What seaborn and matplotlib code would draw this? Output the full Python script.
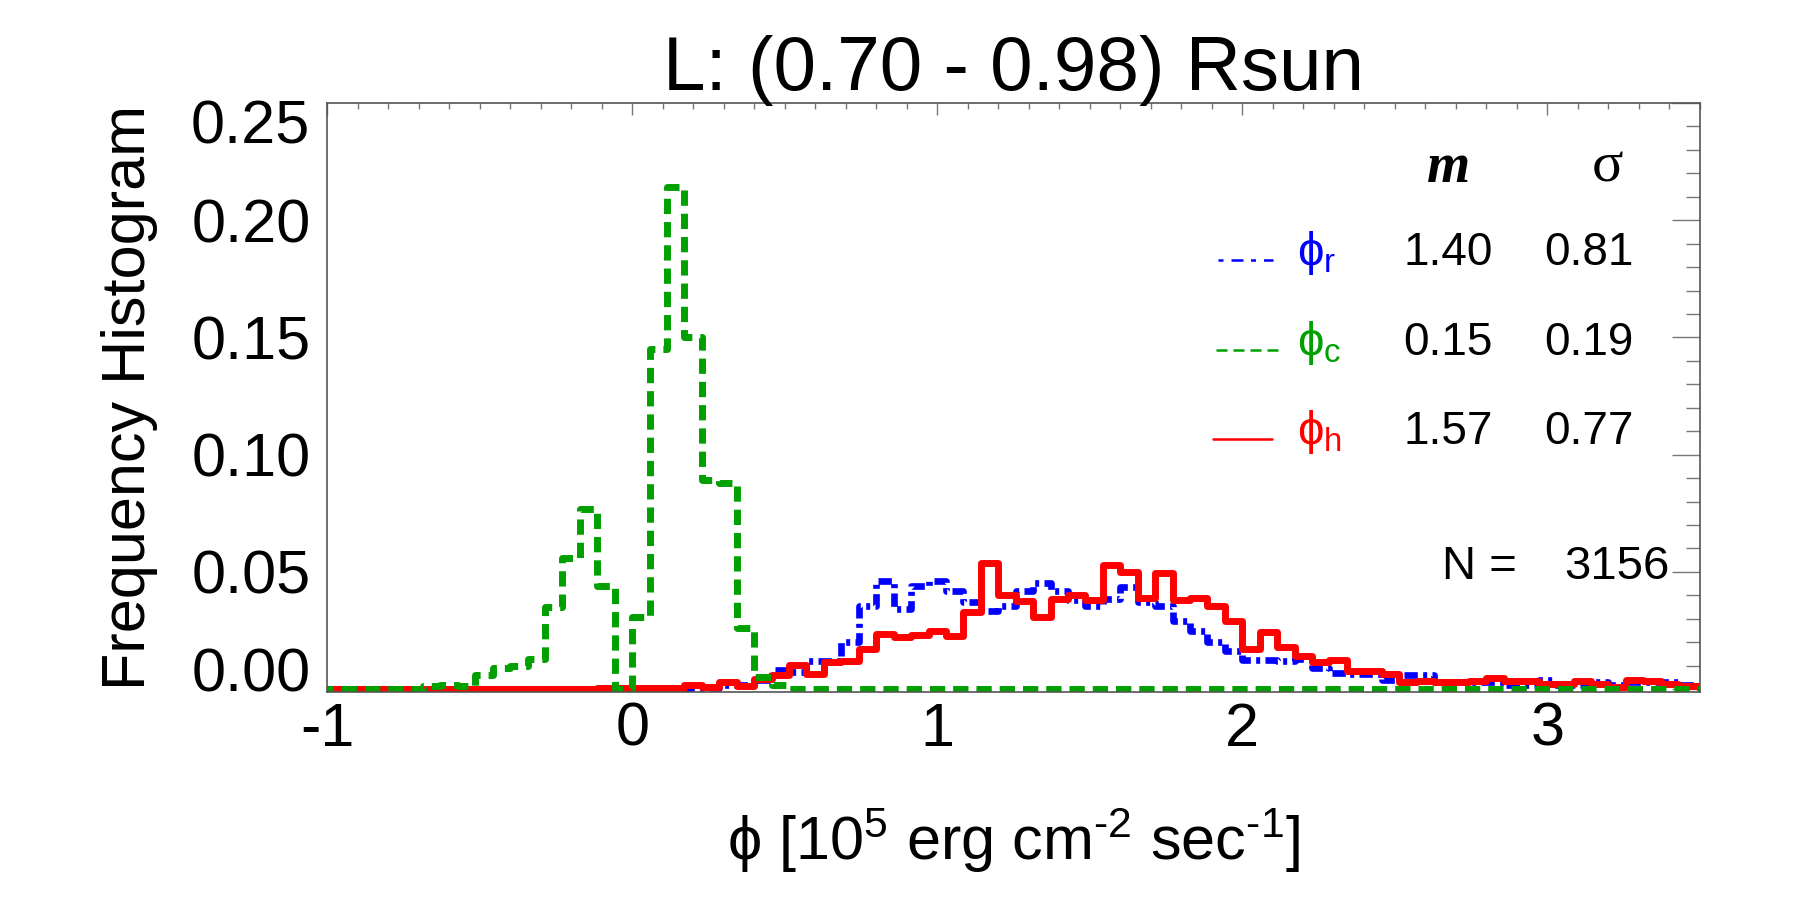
#histogram of flux components phi_r, phi_c, phi_h for L: (0.70 - 0.98) Rsun

import numpy as np
import pandas as pd
import seaborn as sns
import matplotlib.pyplot as plt
from matplotlib.lines import Line2D
from matplotlib.ticker import MultipleLocator, FormatStrFormatter
from matplotlib.transforms import ScaledTranslation

sns.set_style("white")
plt.rcParams['font.family'] = ['Liberation Sans', 'DejaVu Sans']
plt.rcParams['mathtext.fontset'] = 'custom'
plt.rcParams['mathtext.rm'] = 'Liberation Sans'
plt.rcParams['mathtext.it'] = 'Liberation Sans:italic'
plt.rcParams['mathtext.fallback'] = 'stixsans'
plt.rcParams['axes.unicode_minus'] = False
plt.rcParams['text.color'] = 'black'
plt.rcParams['axes.labelcolor'] = 'black'

# -- values --
# common bin grid, bin k covers [k*w, (k+1)*w], k = -18 ... 61
bin_width = 2/35
bin_index = np.arange(-18, 62)

phi_r = [0, 0, 0, 0, 0, 0, 0, 0, 0, 0,
	0, 0, 0, 0, 0, 0, 0, 0, 0, 0,
	0, 0.0003, 0.0005, 0.002, 0.002, 0.004, 0.008, 0.0075, 0.012, 0.012,
	0.020, 0.0356, 0.0463, 0.034, 0.044, 0.0463, 0.042, 0.0373, 0.0332, 0.0353,
	0.042, 0.0455, 0.042, 0.038, 0.0356, 0.0384, 0.0437, 0.037, 0.0356, 0.029,
	0.025, 0.020, 0.0165, 0.0125, 0.0125, 0.012, 0.013, 0.009, 0.007, 0.0065,
	0.0065, 0.004, 0.006, 0.006, 0.003, 0.003, 0.003, 0.003, 0.002, 0.002,
	0.004, 0.002, 0.002, 0.003, 0.002, 0.003, 0.003, 0.003, 0.002, 0.001]

phi_c = [0, 0, 0, 0, 0, 0, 0.0012, 0.0016, 0.0015, 0.006,
	0.009, 0.010, 0.013, 0.035, 0.056, 0.077, 0.044, 0.0, 0.031, 0.145,
	0.214, 0.150, 0.089, 0.088, 0.026, 0.005, 0.002, 0, 0, 0,
	0, 0, 0, 0, 0, 0, 0, 0, 0, 0,
	0, 0, 0, 0, 0, 0, 0, 0, 0, 0,
	0, 0, 0, 0, 0, 0, 0, 0, 0, 0,
	0, 0, 0, 0, 0, 0, 0, 0, 0, 0,
	0, 0, 0, 0, 0, 0, 0, 0, 0, 0]

phi_h = [0, 0, 0, 0, 0, 0, 0, 0, 0, 0,
	0, 0, 0, 0, 0, 0, 0.0003, 0.0003, 0.0003, 0.0004,
	0.0004, 0.002, 0.001, 0.003, 0.0014, 0.0044, 0.0062, 0.0105, 0.0065, 0.0118,
	0.0122, 0.0172, 0.0235, 0.0224, 0.0231, 0.025, 0.0228, 0.033, 0.0538, 0.040,
	0.0377, 0.031, 0.0384, 0.0403, 0.0382, 0.053, 0.0498, 0.0389, 0.0495, 0.038,
	0.0387, 0.0356, 0.0289, 0.0172, 0.0243, 0.0179, 0.0143, 0.0115, 0.0125, 0.0079,
	0.0079, 0.0066, 0.003, 0.0037, 0.003, 0.003, 0.0037, 0.0047, 0.0037, 0.0037,
	0.0023, 0.0023, 0.0037, 0.0023, 0.001, 0.004, 0.0035, 0.0023, 0.0012, 0.0015]

series_names = ["r", "c", "h"]
series_mean = ["1.40", "0.15", "1.57"]
series_sigma = ["0.81", "0.19", "0.77"]
n_points = 3156

#step outline: left edges plus closing right edge (last height repeated)
bin_edges = bin_width*np.append(bin_index, bin_index[-1]+1)
steps = []
for s, vals in zip(series_names, [phi_r, phi_c, phi_h]):
	steps.append(pd.DataFrame({"phi": bin_edges, "freq": vals+[vals[-1]], "series": s}))
steps_df = pd.concat(steps, ignore_index=True)

colors = {"r": "#0000ff", "c": "#00a000", "h": "#ff0000"}
styles = {"r": (0, (2.0, 0.8, 0.6, 0.8)), "c": (0, (2.2, 1.15)), "h": "-"}
widths = {"r": 4.8, "c": 5.0, "h": 5.0}
key_styles = {"r": (0, (2.0, 3.2, 4.8, 3.0)), "c": (0, (4.4, 2.4)), "h": "-"}

# -- plotting --
fig, ax = plt.subplots(figsize=(18, 9), dpi=100)
fig.subplots_adjust(left=0.1817, right=0.9444, top=0.8856, bottom=0.2311)

#draw order: blue under red, green on top
for s in ["r", "h", "c"]:
	sns.lineplot(data=steps_df[steps_df["series"]==s], x="phi", y="freq",
		drawstyle="steps-post", estimator=None, sort=False,
		color=colors[s], linewidth=widths[s], linestyle=styles[s], ax=ax)

ax.set_xlim(-1, 3.5)
ax.set_ylim(-0.0012, 0.25)
ax.set_xticks([-1, 0, 1, 2, 3])
ax.set_yticks([0, 0.05, 0.10, 0.15, 0.20, 0.25])
ax.xaxis.set_minor_locator(MultipleLocator(0.1))
ax.yaxis.set_minor_locator(MultipleLocator(0.01))
ax.yaxis.set_major_formatter(FormatStrFormatter("%.2f"))

ax.tick_params(axis="both", which="both", direction="in", top=True, right=True,
	color="#777777", labelcolor="black", width=1.0, labelsize=44)
ax.tick_params(axis="x", which="major", length=8.6, pad=7)
ax.tick_params(axis="x", which="minor", length=4.3)
ax.tick_params(axis="y", which="major", length=20, pad=12)
ax.tick_params(axis="y", which="minor", length=10)
for sp in ax.spines.values():
	sp.set_color("#555555")
	sp.set_linewidth(1.2)

ax.set_title("L: (0.70 - 0.98) Rsun", fontsize=55, pad=9)
ax.set_xlabel(r"$\mathrm{\phi}$ [10$^5$ erg cm$^{\text{-2}}$ sec$^{\text{-1}}$]", fontsize=44, labelpad=34)
ax.set_ylabel("Frequency Histogram", fontsize=44, labelpad=24)

#end labels sit inside the box like the original
ylabels = ax.get_yticklabels()
ylabels[0].set_transform(ylabels[0].get_transform()+ScaledTranslation(0, 14/72, fig.dpi_scale_trans))
ylabels[-1].set_transform(ylabels[-1].get_transform()+ScaledTranslation(0, -13/72, fig.dpi_scale_trans))

# -- legend table --
tr = ax.transAxes
ax.text(0.8165, 0.8896, "m", transform=tr, fontsize=40, ha="center", va="center",
	family="Liberation Serif", style="italic", weight="bold")
ax.text(0.933, 0.8896, "σ", transform=tr, fontsize=42, ha="center", va="center",
	family="Liberation Serif")
row_y = [0.745, 0.593, 0.441]
key_x = [(0.649, 0.689), (0.6475, 0.6934), (0.645, 0.688)]
for i, s in enumerate(series_names):
	ax.add_line(Line2D(key_x[i], [row_y[i]-0.012]*2, transform=tr, color=colors[s],
		linewidth=1.8, linestyle=key_styles[s]))
	ax.text(0.7065, row_y[i], r"$\mathrm{\phi}_\mathrm{"+s+"}$", transform=tr,
		fontsize=34, color=colors[s], ha="left", va="center")
	ax.text(0.8165, row_y[i], series_mean[i], transform=tr, fontsize=33, ha="center", va="center")
	ax.text(0.919, row_y[i], series_sigma[i], transform=tr, fontsize=33, ha="center", va="center")

ax.text(0.812, 0.212, "N =", transform=tr, fontsize=34, ha="left", va="center")
ax.text(0.978, 0.212, str(n_points), transform=tr, fontsize=34, ha="right", va="center")

plt.savefig("out.png", dpi=100)
